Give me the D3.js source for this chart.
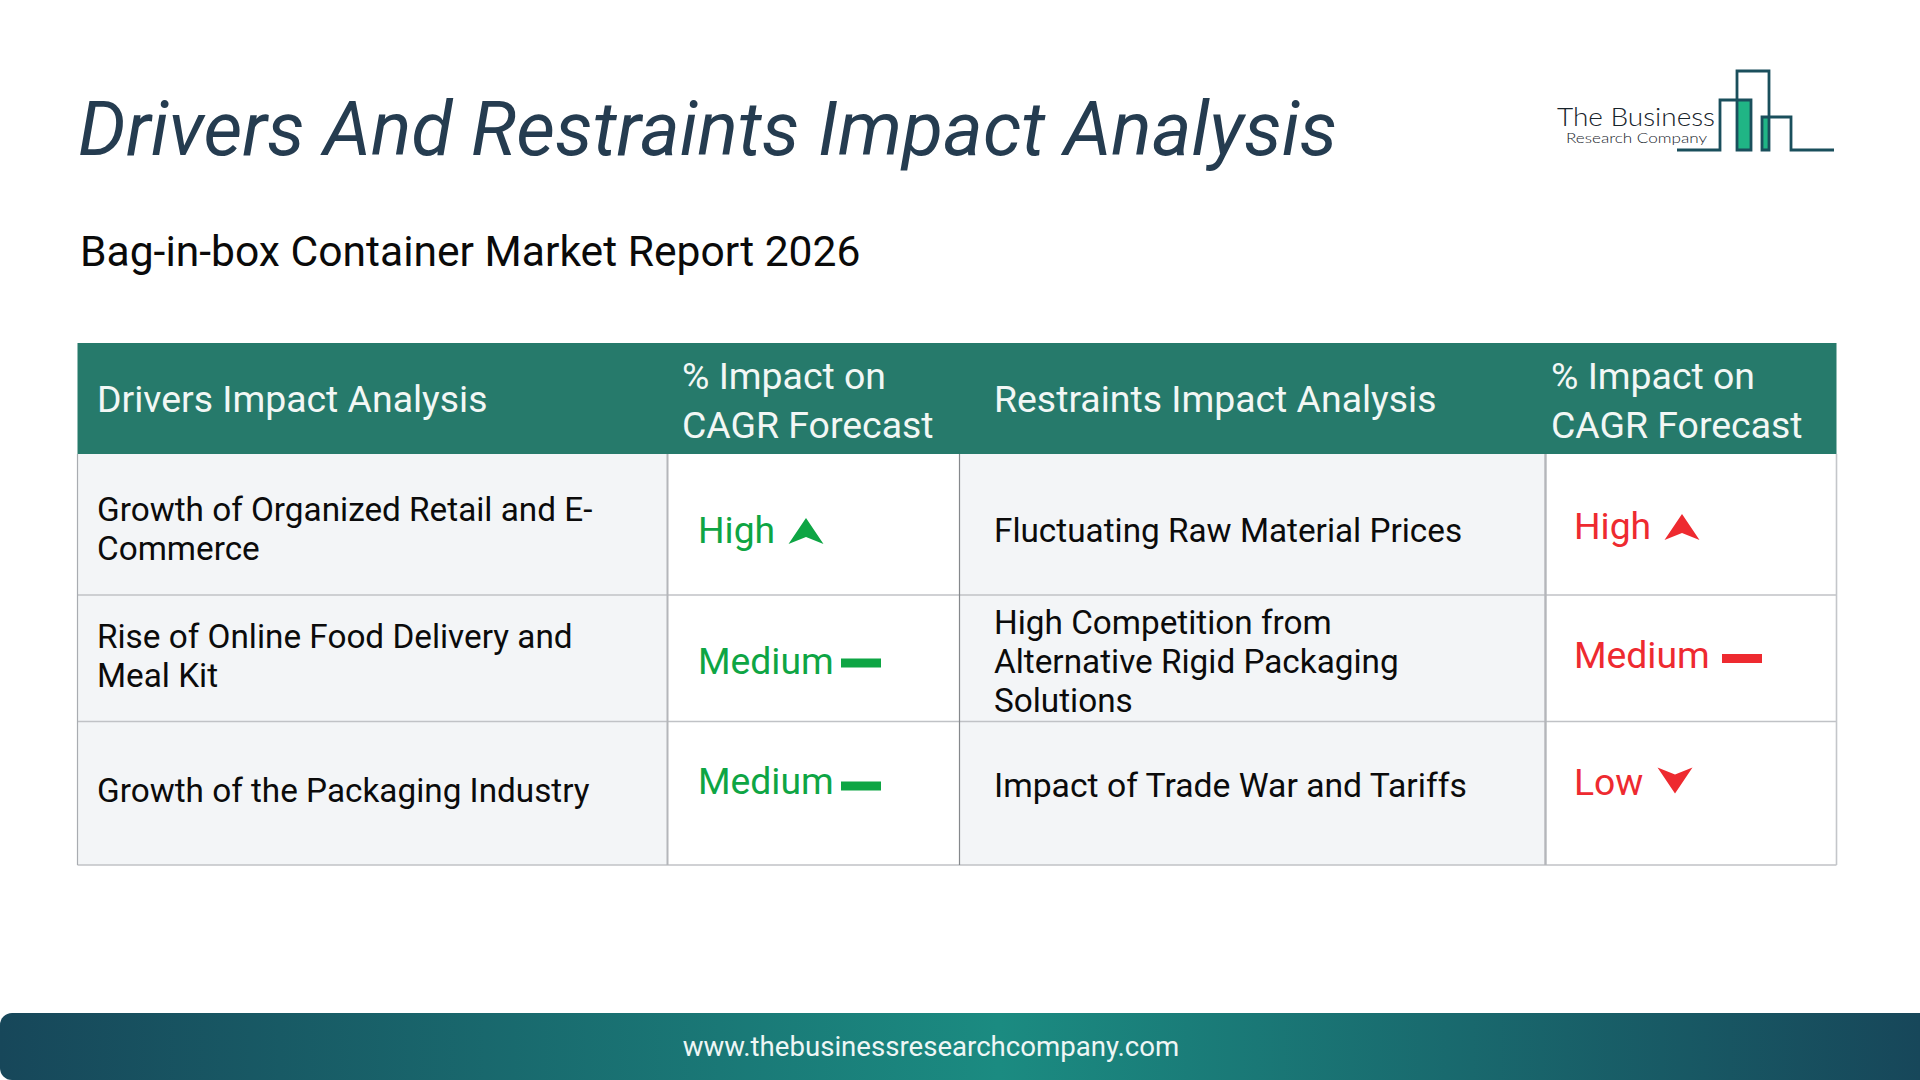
<!DOCTYPE html>
<html>
<head>
<meta charset="utf-8">
<script src="https://cdn.jsdelivr.net/npm/d3@7"></script>
<style>
html,body{margin:0;padding:0;background:#fff;}
svg{display:block;font-family:Roboto,sans-serif;}
</style>
</head>
<body>
<div id="chart"></div>
<script>
// ---- data ----
const chartTitle = "Drivers And Restraints Impact Analysis";
const chartSubtitle = "Bag-in-box Container Market Report 2026";
const headers = [["Drivers Impact Analysis"], ["% Impact on", "CAGR Forecast"], ["Restraints Impact Analysis"], ["% Impact on", "CAGR Forecast"]];
const drivers = [["Growth of Organized Retail and E-", "Commerce"], ["Rise of Online Food Delivery and", "Meal Kit"], ["Growth of the Packaging Industry"]];
const driverImpact = ["High", "Medium", "Medium"];
const restraints = [["Fluctuating Raw Material Prices"], ["High Competition from", "Alternative Rigid Packaging", "Solutions"], ["Impact of Trade War and Tariffs"]];
const restraintImpact = ["High", "Medium", "Low"];
const footerUrl = "www.thebusinessresearchcompany.com";

// ---- layout ----
const W = 1920, H = 1080;
const colX = d3.scaleOrdinal().domain([0,1,2,3,4]).range([77.5, 667.5, 959.5, 1545.5, 1836.5]);
const rowY = d3.scaleOrdinal().domain([0,1,2,3]).range([454, 595, 721.5, 865]);
const hdrTop = 343;
const GREEN = "#0ea544", RED = "#ee2a30", GRID = "#c0c2c6";
const lh = 39;
const bodyFirstBase = { 0: [521, 648, 802], 2: [542, 634, 797] };
const bodySize = { 0: [33.3, 33.3, 33.3], 2: [33.3, 33.3, 33.7] };
const headerTextX = [97, 682, 994, 1551];
const bodyTextX = { 0: 97, 2: 994 };
const impactX = { 1: 698, 3: 1574 };
const impactBase = { 1: [543, 674, 794], 3: [539, 668, 795] };
const iconX = { 1: [806, 841, 841], 3: [1682, 1722, 1675] };
const iconY = { 1: [531, 658.5, 781.5], 3: [527, 654, 780.5] };

const svg = d3.select("#chart").append("svg").attr("width", W).attr("height", H).attr("viewBox", `0 0 ${W} ${H}`);
const defs = svg.append("defs");
const grad = defs.append("linearGradient").attr("id", "footerGrad").attr("x1", 0).attr("x2", 1).attr("y1", 0).attr("y2", 0);
[[0, "#17475a"], [0.52, "#1b8b81"], [1, "#17475a"]].forEach(s => grad.append("stop").attr("offset", s[0]).attr("stop-color", s[1]));

svg.append("rect").attr("width", W).attr("height", H).attr("fill", "#fff");

// title
svg.append("text").attr("x", 78).attr("y", 155).attr("font-size", 75.4).attr("font-style", "italic").attr("fill", "#253c50").text(chartTitle);
svg.append("text").attr("x", 80).attr("y", 266).attr("font-size", 42.6).attr("fill", "#0a0a0a").text(chartSubtitle);

// table body fills
const bodyG = svg.append("g");
[0, 2].forEach(c => bodyG.append("rect").attr("x", colX(c)).attr("y", rowY(0)).attr("width", colX(c + 1) - colX(c)).attr("height", rowY(3) - rowY(0)).attr("fill", "#f3f5f7"));

// header
svg.append("rect").attr("x", colX(0)).attr("y", hdrTop).attr("width", colX(4) - colX(0)).attr("height", rowY(0) - hdrTop).attr("fill", "#267a6b");

// grid
const grid = svg.append("g").attr("fill", "none");
[1, 2, 3].forEach(r => grid.append("line").attr("x1", colX(0)).attr("x2", colX(4)).attr("y1", rowY(r)).attr("y2", rowY(r)).attr("stroke", GRID).attr("stroke-width", 1.6));
const vStroke = ["#a9acb1", "#b4b6ba", "#85888c", "#b4b6ba", "#c4c6ca"];
const vWidth = [1.2, 2, 1.2, 2.4, 1.6];
[0, 1, 2, 3, 4].forEach(c => grid.append("line").attr("x1", colX(c)).attr("x2", colX(c)).attr("y1", rowY(0)).attr("y2", rowY(3)).attr("stroke", vStroke[c]).attr("stroke-width", vWidth[c]));

// header text
const hdrSize = 37.4;
headers.forEach((lines, c) => {
  const bases = lines.length === 1 ? [412] : [389, 438];
  lines.forEach((t, i) => svg.append("text").attr("x", headerTextX[c]).attr("y", bases[i]).attr("font-size", hdrSize).attr("fill", "#f2f7f5").text(t));
});

// body text
function bodyText(col, items) {
  items.forEach((lines, r) => {
    lines.forEach((t, i) => svg.append("text").attr("x", bodyTextX[col]).attr("y", bodyFirstBase[col][r] + i * lh).attr("font-size", bodySize[col][r]).attr("fill", "#0b0b0b").text(t));
  });
}
bodyText(0, drivers);
bodyText(2, restraints);

// impact
function icon(level, cx, cy, color) {
  if (level === "Medium") {
    svg.append("rect").attr("x", cx).attr("y", cy).attr("width", 40).attr("height", 9).attr("fill", color);
  } else {
    const hw = 17.5, hh = 13;
    const pts = [[0, -hh], [hw, hh], [0, hh - 7], [-hw, hh]];
    const s = level === "Low" ? -1 : 1;
    svg.append("path")
      .attr("d", d3.line()(pts.map(p => [cx + p[0], cy + s * p[1]])) + "Z")
      .attr("fill", color);
  }
}
function impact(col, items, color) {
  items.forEach((lvl, r) => {
    svg.append("text").attr("x", impactX[col]).attr("y", impactBase[col][r]).attr("font-size", 37.3).attr("fill", color).text(lvl);
    icon(lvl, iconX[col][r], iconY[col][r], color);
  });
}
impact(1, driverImpact, GREEN);
impact(3, restraintImpact, RED);

// logo
const logo = svg.append("g");
logo.append("rect").attr("x", 1737).attr("y", 101).attr("width", 14).attr("height", 49).attr("fill", "#20b585");
logo.append("rect").attr("x", 1762).attr("y", 118).attr("width", 7).attr("height", 32).attr("fill", "#20b585");
const logoPath = [[1677,150],[1720,150],[1720,100],[1751,100],[1751,150],[1737,150],[1737,71],[1769,71],[1769,150],[1762,150],[1762,117],[1791,117],[1791,150],[1834,150]];
logo.append("path").attr("d", d3.line()(logoPath)).attr("fill", "none").attr("stroke", "#1a4f5c").attr("stroke-width", 2.8);
logo.append("text").attr("x", 1557).attr("y", 126).attr("font-family", "Lato").attr("font-weight", 300).attr("font-size", 26).attr("textLength", 158).attr("lengthAdjust", "spacingAndGlyphs").attr("fill", "#17232a").text("The Business");
logo.append("text").attr("x", 1566).attr("y", 142.5).attr("font-family", "Lato").attr("font-weight", 300).attr("font-size", 14).attr("textLength", 141).attr("lengthAdjust", "spacingAndGlyphs").attr("fill", "#17232a").text("Research Company");

// footer: rounded on the left corners only
const fy = 1013, fr = 12;
svg.append("path")
  .attr("d", `M${W},${fy}H${fr}A${fr},${fr} 0 0 0 0,${fy + fr}V${H - fr}A${fr},${fr} 0 0 0 ${fr},${H}H${W}Z`)
  .attr("fill", "url(#footerGrad)");
svg.append("text").attr("x", 931).attr("y", 1056).attr("text-anchor", "middle").attr("font-size", 27.6).attr("fill", "#eef6f5").text(footerUrl);
</script>
</body>
</html>
